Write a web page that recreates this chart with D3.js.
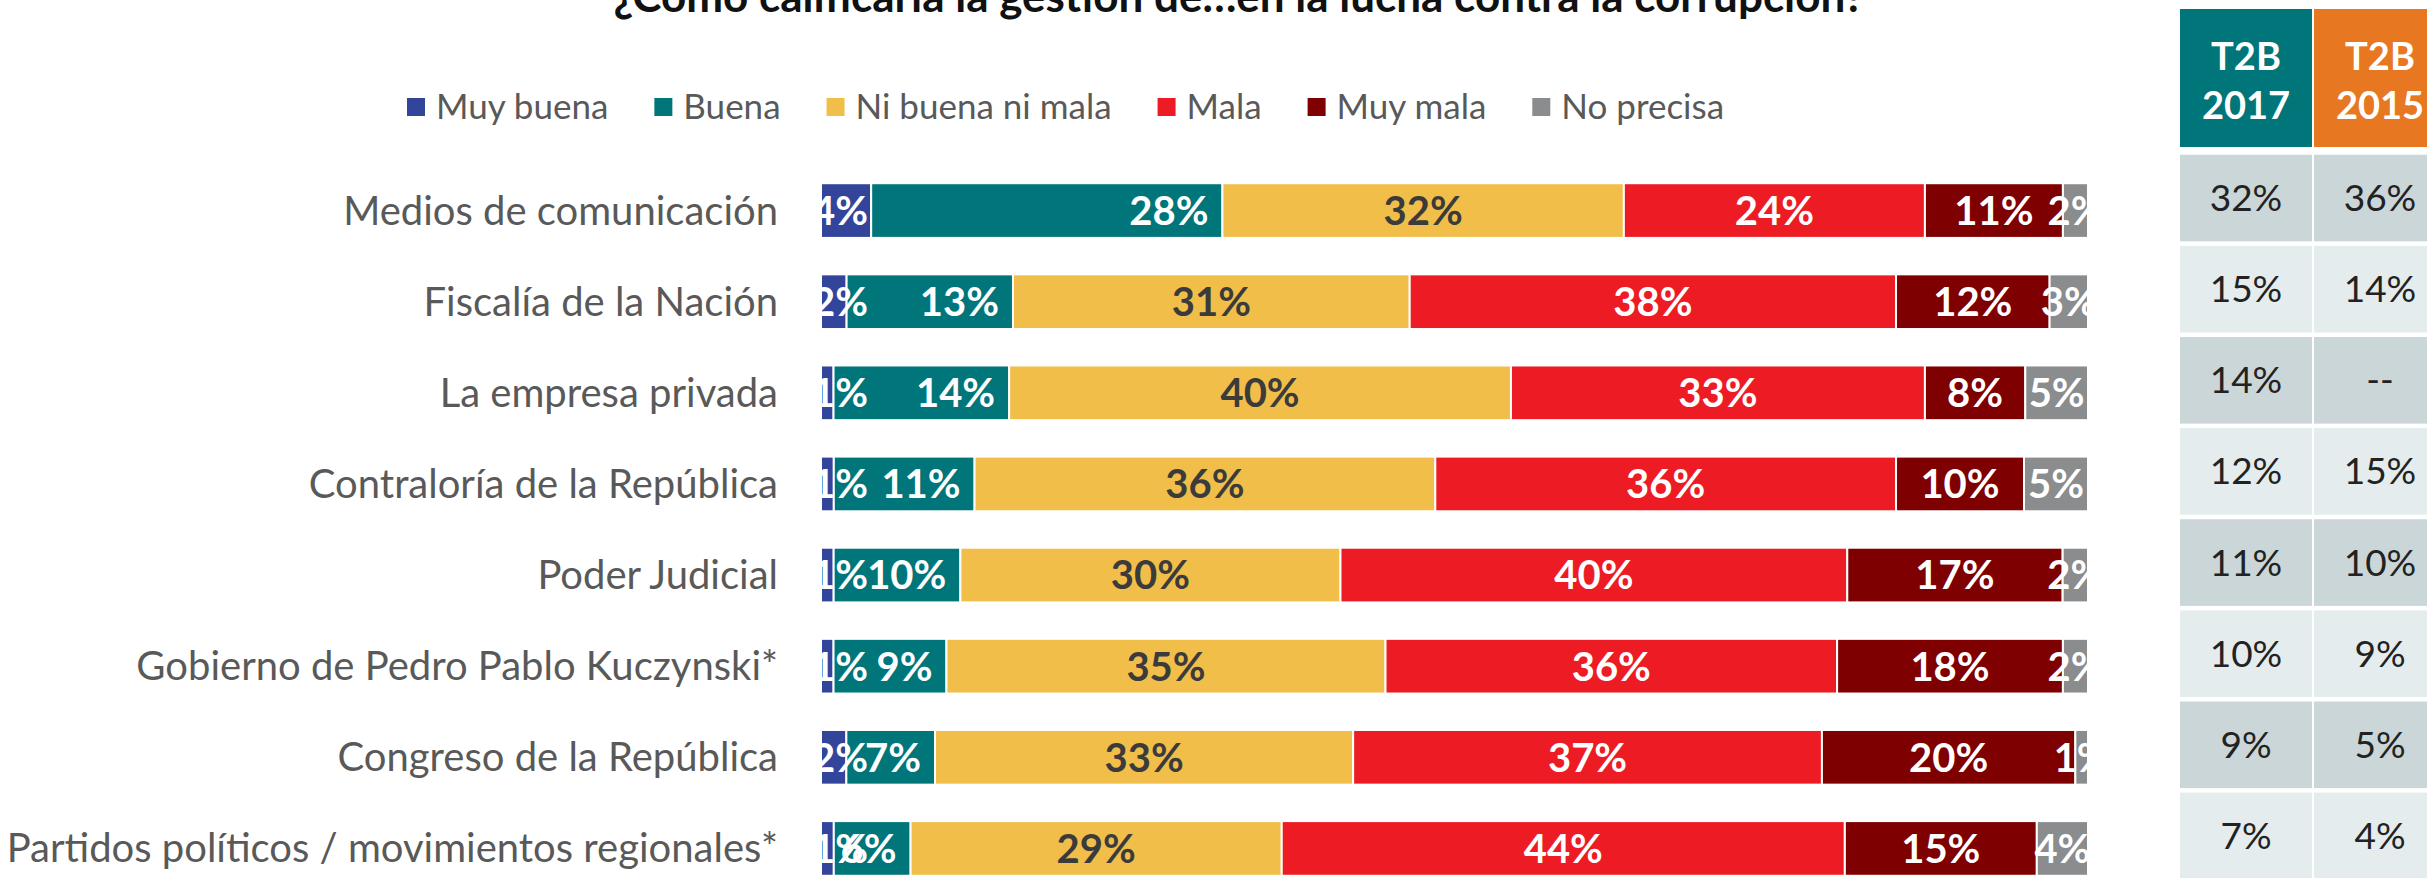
<!DOCTYPE html>
<html>
<head>
  <meta charset="utf-8">
  <title>Gestión en la lucha contra la corrupción</title>
  <style>
  body { margin: 0; background: #fff; }
  svg { display: block; font-family: Lato, "Open Sans", sans-serif; }
  </style>
</head>
<body>
  <svg width="2427" height="878"></svg>
  <script src="https://d3js.org/d3.v7.min.js"></script>
  <script>
    var categories = ["Medios de comunicación", "Fiscalía de la Nación", "La empresa privada",
      "Contraloría de la República", "Poder Judicial", "Gobierno de Pedro Pablo Kuczynski*",
      "Congreso de la República", "Partidos políticos / movimientos regionales*"];
    var seriesNames = ["Muy buena", "Buena", "Ni buena ni mala", "Mala", "Muy mala", "No precisa"];
    var muyBuena = [4, 2, 1, 1, 1, 1, 2, 1];
    var buena = [28, 13, 14, 11, 10, 9, 7, 6];
    var niBuenaNiMala = [32, 31, 40, 36, 30, 35, 33, 29];
    var mala = [24, 38, 33, 36, 40, 36, 37, 44];
    var muyMala = [11, 12, 8, 10, 17, 18, 20, 15];
    var noPrecisa = [2, 3, 5, 5, 2, 2, 1, 4];
    var t2b2017 = [32, 15, 14, 12, 11, 10, 9, 7];
    var t2b2015 = [36, 14, null, 15, 10, 9, 5, 4];
    var tableYears = ["2017", "2015"];
    var title = "¿Cómo calificaría la gestión de…en la lucha contra la corrupción?";

    var fillScale = d3.scaleOrdinal()
      .domain(seriesNames)
      .range(["#33449b", "#00767b", "#f1be4a", "#ed1c24", "#7f0000", "#8a8c8e"]);
    var headerFill = d3.scaleOrdinal().domain(tableYears).range(["#00767b", "#e87722"]);

    var seriesValues = [muyBuena, buena, niBuenaNiMala, mala, muyMala, noPrecisa];
    var rows = categories.map(function (c, i) {
      var r = { cat: c };
      seriesNames.forEach(function (s, j) { r[s] = seriesValues[j][i]; });
      return r;
    });
    var layers = d3.stack().keys(seriesNames).offset(d3.stackOffsetExpand)(rows);

    var xScale = d3.scaleLinear().domain([0, 1]).range([821, 2088]);
    var yScale = d3.scaleBand().domain(categories).range([165, 894])
      .paddingInner(0.4).paddingOuter(0.2);
    var bw = yScale.bandwidth();

    var svg = d3.select("svg");

    // title (cut at the top like the slide)
    svg.append("text")
      .attr("x", 1239).attr("y", 12)
      .attr("text-anchor", "middle")
      .style("font-weight", "bold").style("font-size", "44px").style("fill", "#111")
      .text(title);

    // legend
    var legend = svg.append("g").attr("transform", "translate(407,107)");
    var lx = 0;
    seriesNames.forEach(function (s) {
      var g = legend.append("g").attr("transform", "translate(" + lx + ",0)");
      g.append("rect").attr("x", 0).attr("y", -9).attr("width", 18).attr("height", 18)
        .attr("fill", fillScale(s));
      var t = g.append("text").attr("x", 29).attr("dy", "0.35em")
        .style("font-size", "35px").style("fill", "#595959").text(s);
      lx += 29 + t.node().getComputedTextLength() + 46;
    });

    // category labels
    svg.append("g").selectAll("text")
      .data(categories).join("text")
      .attr("x", xScale(0) - 43)
      .attr("y", d => yScale(d) + bw / 2)
      .attr("dy", "0.35em")
      .attr("text-anchor", "end")
      .style("font-size", "40px").style("fill", "#595959")
      .text(d => d);

    // bars
    svg.append("defs").append("clipPath").attr("id", "plotClip")
      .append("rect").attr("x", xScale(0)).attr("y", 0)
      .attr("width", xScale(1) - xScale(0)).attr("height", 878);

    var layerG = svg.append("g").selectAll("g")
      .data(layers).join("g")
      .attr("fill", d => fillScale(d.key));

    layerG.selectAll("rect")
      .data(d => d).join("rect")
      .attr("x", d => xScale(d[0]))
      .attr("y", d => yScale(d.data.cat))
      .attr("width", d => xScale(d[1]) - xScale(d[0]))
      .attr("height", bw)
      .attr("stroke", "#fff")
      .attr("stroke-width", 2);

    // value labels
    var labelG = svg.append("g").attr("clip-path", "url(#plotClip)");
    layers.forEach(function (layer) {
      labelG.append("g").selectAll("text")
        .data(layer).join("text")
        .attr("x", function (d) {
          if (layer.key === "Muy buena") return xScale(0) + 47;
          if (layer.key === "Buena") return xScale(d[1]) - 14;
          return (xScale(d[0]) + xScale(d[1])) / 2;
        })
        .attr("y", d => yScale(d.data.cat) + bw / 2)
        .attr("dy", "0.36em")
        .attr("text-anchor", (layer.key === "Muy buena" || layer.key === "Buena") ? "end" : "middle")
        .style("font-size", "40px").style("font-weight", "bold")
        .style("fill", layer.key === "Ni buena ni mala" ? "#3b3b3b" : "#fff")
        .text(d => d.data[layer.key] + "%");
    });

    // T2B table
    var colScale = d3.scaleBand().domain(tableYears).range([2180, 2446]).paddingInner(0.015);
    var header = svg.append("g").selectAll("g")
      .data(tableYears).join("g");
    header.append("rect")
      .attr("x", d => colScale(d)).attr("y", 9)
      .attr("width", colScale.bandwidth()).attr("height", 138)
      .attr("fill", d => headerFill(d));
    header.append("text")
      .attr("x", d => colScale(d) + colScale.bandwidth() / 2).attr("y", 57)
      .attr("dy", "0.35em").attr("text-anchor", "middle")
      .style("font-size", "38px").style("font-weight", "bold").style("fill", "#fff")
      .text("T2B");
    header.append("text")
      .attr("x", d => colScale(d) + colScale.bandwidth() / 2).attr("y", 106)
      .attr("dy", "0.35em").attr("text-anchor", "middle")
      .style("font-size", "38px").style("font-weight", "bold").style("fill", "#fff")
      .text(d => d);

    var cellH = yScale.step() - 4.5;
    var tableCols = [t2b2017, t2b2015];
    tableYears.forEach(function (year, j) {
      var cells = svg.append("g").selectAll("g")
        .data(categories).join("g");
      cells.append("rect")
        .attr("x", colScale(year))
        .attr("y", d => yScale(d) + bw / 2 - 12.5 - cellH / 2)
        .attr("width", colScale.bandwidth()).attr("height", cellH)
        .attr("fill", (d, i) => i % 2 === 0 ? "#cad6d8" : "#e5eced");
      cells.append("text")
        .attr("x", colScale(year) + colScale.bandwidth() / 2)
        .attr("y", d => yScale(d) + bw / 2 - 12.5)
        .attr("dy", "0.35em").attr("text-anchor", "middle")
        .style("font-size", "37px").style("fill", "#222")
        .text((d, i) => tableCols[j][i] === null ? "--" : tableCols[j][i] + "%");
    });
  </script>
</body>
</html>
